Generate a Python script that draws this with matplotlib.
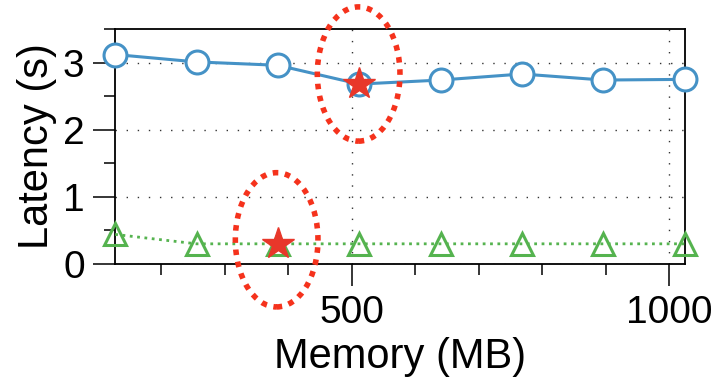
import matplotlib.pyplot as plt
from matplotlib.patches import Ellipse
from matplotlib.ticker import MultipleLocator, FixedLocator

plt.rcParams['font.family'] = ['Liberation Sans', 'DejaVu Sans']

memory = [128, 256, 384, 512, 640, 768, 896, 1024]
total_latency = [3.12, 3.01, 2.96, 2.68, 2.74, 2.83, 2.74, 2.75]
cold_latency = [0.44, 0.30, 0.30, 0.30, 0.30, 0.30, 0.30, 0.30]
best_total = (512, 2.68)
best_cold = (384, 0.30)

fig = plt.figure(figsize=(7.2, 3.82), dpi=100)
ax = fig.add_axes([0.16, 0.309, 0.791, 0.615])

ax.plot(memory, total_latency, '-o', color='#4592c6', lw=2.2,
        ms=16.5, mfc='white', mec='#4592c6', mew=2.2, clip_on=False, zorder=3)
ax.plot(memory, cold_latency, ':^', color='#55b34f', lw=2.0,
        ms=16, mfc='none', mec='#55b34f', mew=2.2, clip_on=False, zorder=3)

for x, y in (best_total, best_cold):
    ax.plot([x], [y], '*', color='#e8372a', ms=24, mec='#e8372a',
            clip_on=False, zorder=5)

# dotted rings around the best configurations
ring = dict(fill=False, ec='#f5321c', lw=4.0, ls=(0, (1, 1.2)),
            capstyle='butt', clip_on=False, zorder=6)
ax.add_patch(Ellipse((511, 2.83), 130, 2.0, **ring))
ax.add_patch(Ellipse((382, 0.36), 130, 2.0, **ring))

ax.set_xlim(128, 1024)
ax.set_ylim(0, 3.5)
ax.xaxis.set_major_locator(FixedLocator([500, 1000]))
ax.xaxis.set_minor_locator(MultipleLocator(100))
ax.yaxis.set_major_locator(MultipleLocator(1))
ax.yaxis.set_minor_locator(MultipleLocator(0.5))

ax.tick_params(which='major', direction='out', length=16, width=1.1,
               labelsize=28, pad=6, top=False, right=False)
ax.tick_params(which='minor', direction='out', length=8, width=1.1,
               top=False, right=False)
ax.grid(True, which='major', color='#333333', ls=(0, (1, 7)), lw=1.0)

for s in ax.spines.values():
    s.set_linewidth(1.3)

ax.set_xlabel('Memory (MB)', fontsize=30, labelpad=5)
ax.set_ylabel('Latency (s)', fontsize=30, labelpad=4)

fig.savefig('out.png', dpi=100)
